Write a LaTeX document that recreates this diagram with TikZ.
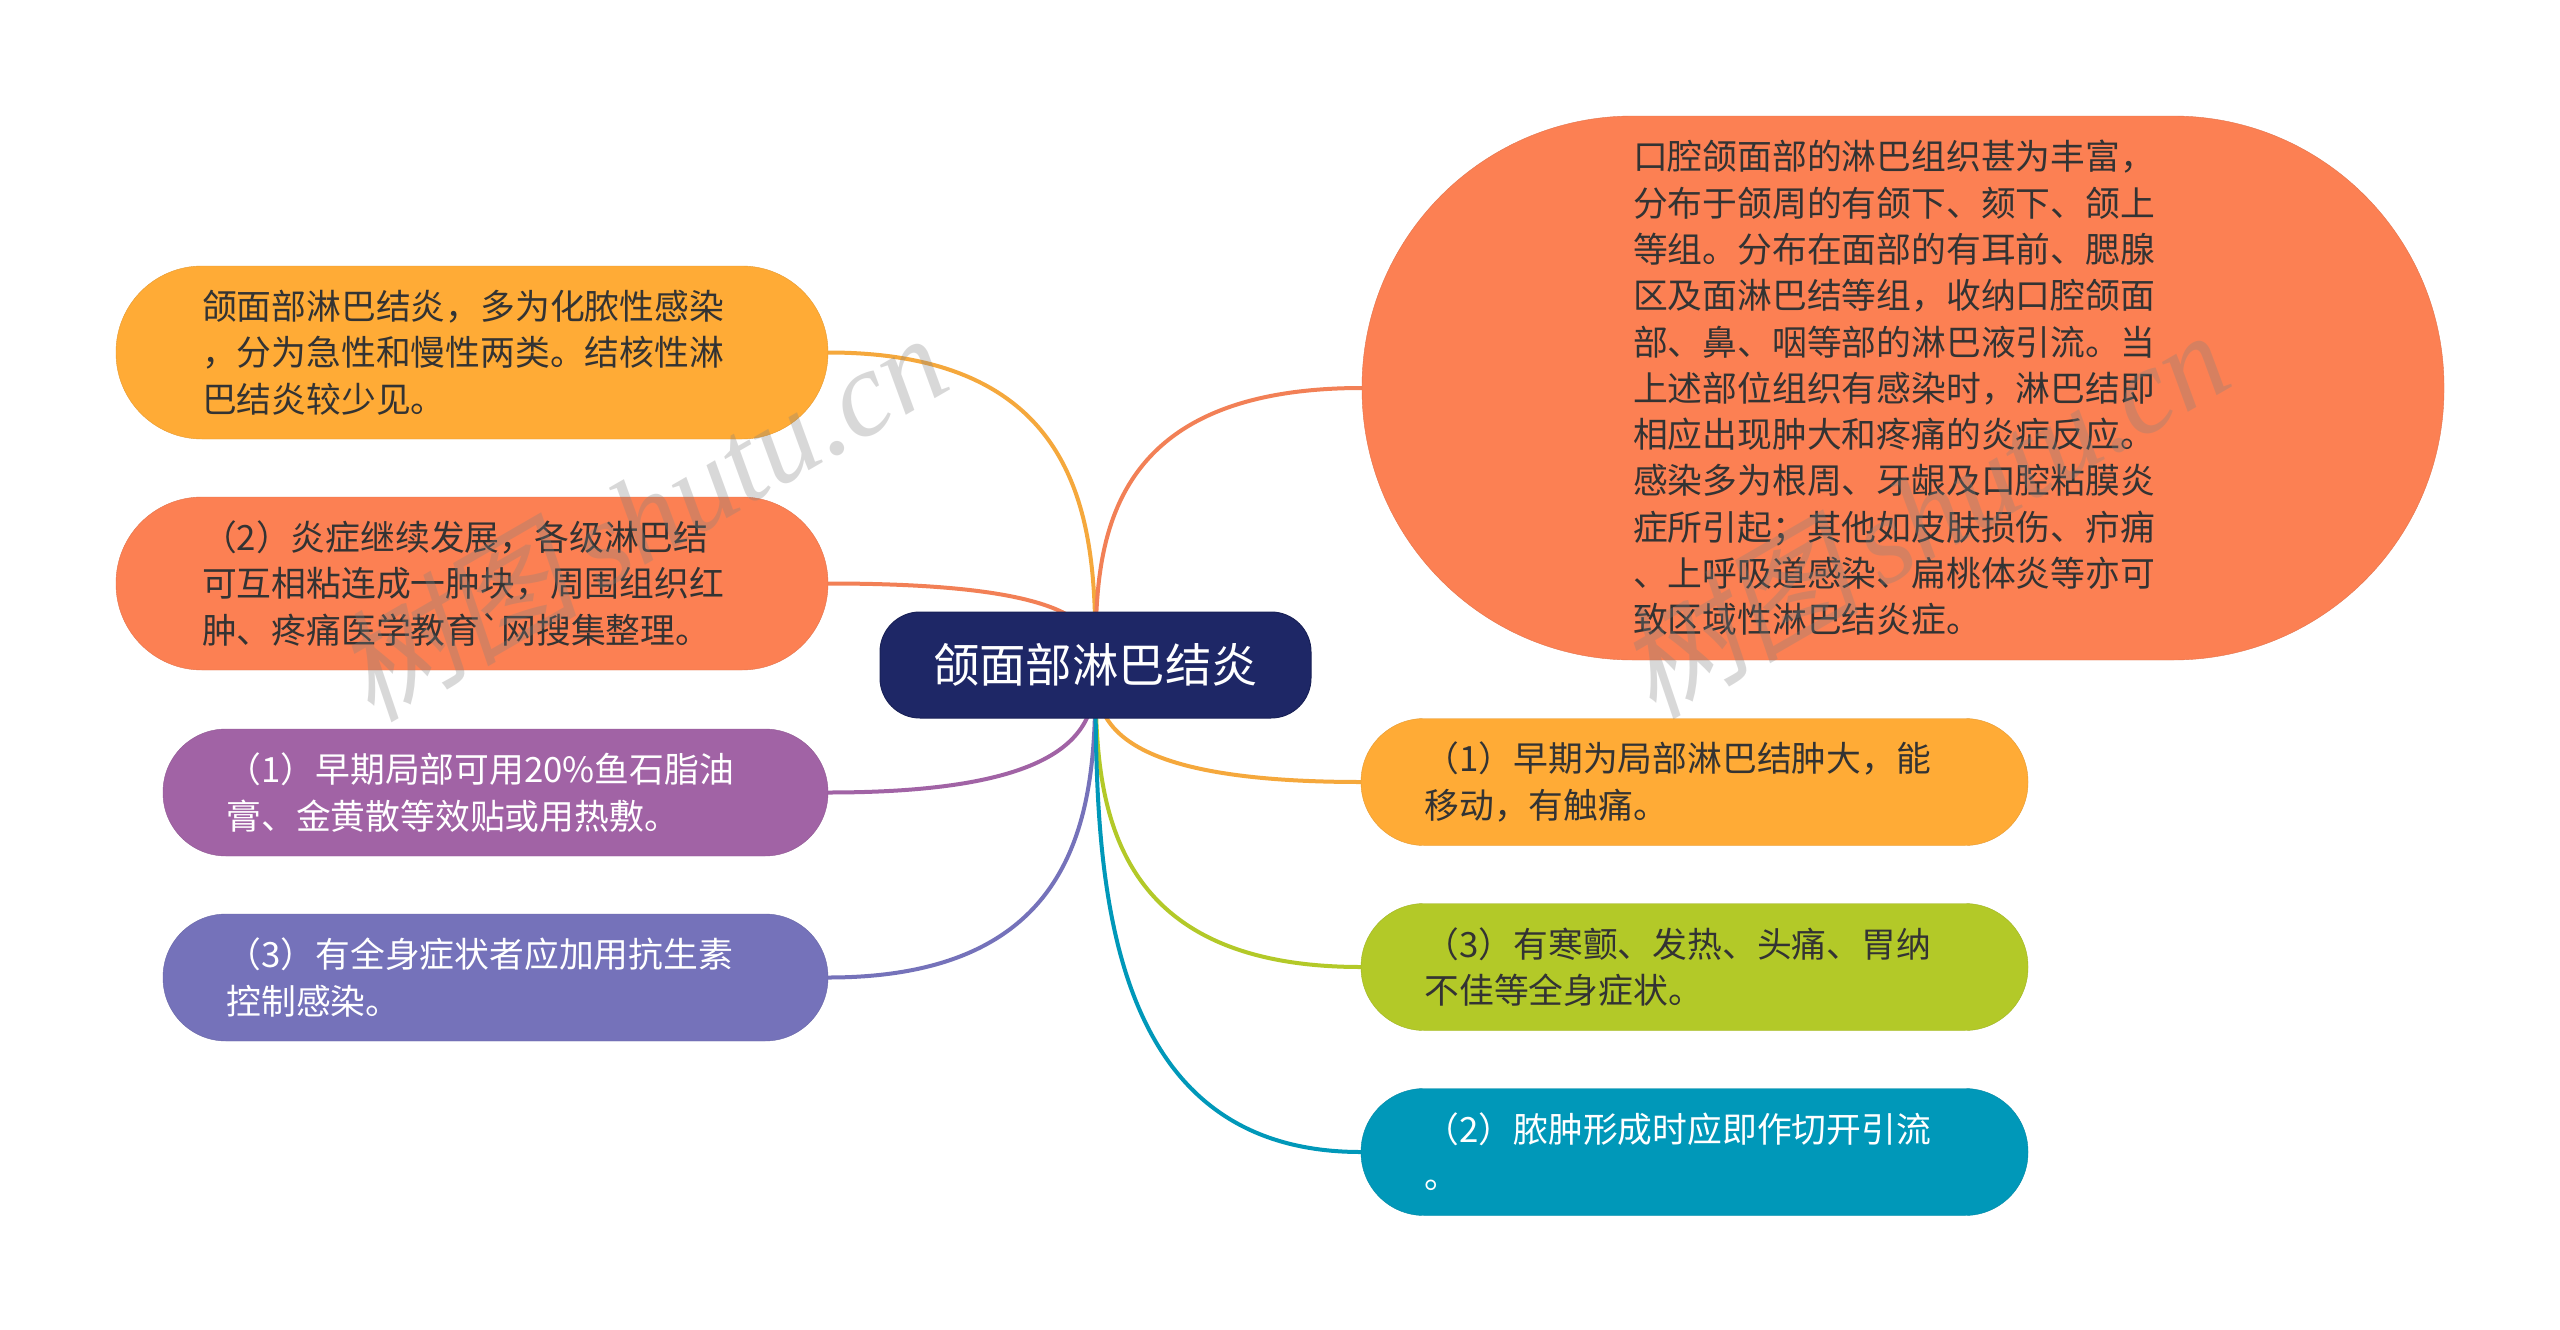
\documentclass[tikz,border=0pt]{standalone}
\usepackage{fontspec}
\setmainfont{Noto Sans CJK SC}
\newfontfamily\markfont[FakeSlant=0.2]{Noto Sans CJK SC}
\newfontfamily\marklatin{Liberation Serif Italic}
\newfontfamily\plainfont{Noto Sans CJK SC}
\usetikzlibrary{calc,backgrounds}
\definecolor{cOrange}{HTML}{FFAB36}
\definecolor{cCoral}{HTML}{FC8053}
\definecolor{cPurple}{HTML}{A163A5}
\definecolor{cIndigo}{HTML}{7572BA}
\definecolor{cLime}{HTML}{B3C928}
\definecolor{cTeal}{HTML}{0098B9}
\definecolor{cNavy}{HTML}{1E2766}
\definecolor{cInk}{HTML}{333333}
\tikzset{
  pill/.style={inner xsep=0pt,inner ysep=0pt,align=left,font=\fontsize{34.8}{46.3}\selectfont,text=cInk},
  hub/.style={fill=cNavy,draw=cNavy!85!black,line width=1pt,rounded corners=40pt,minimum width=431pt,minimum height=106pt,
    text=white,inner sep=0pt,align=center,font=\fontsize{46.4}{56}\selectfont},
  link/.style={line width=4pt},
  wmark/.style={text=gray,opacity=0.3,font=\fontsize{122}{122}\selectfont,rotate=30,inner sep=0pt}
}
\newcommand\linkto[2]{\draw[link,#1] (c.center) .. controls ($(c.center)!0.4!(c.center |- #2)$) and (c.center |- #2) .. (#2);}
\begin{document}
\begin{tikzpicture}[x=1pt,y=-1pt]
\useasboundingbox (0,0) rectangle (2560,1330);
\node[hub] (c) at (1095.5,665) {颌面部淋巴结炎};
\node[pill,fill=cOrange,draw=cOrange!90!black,rounded corners=86pt,minimum width=712pt,minimum height=173pt,text width=540pt] (a) at (472,352.5)
 {颌面部淋巴结炎，多为化脓性感染\\，分为急性和慢性两类。结核性淋\\巴结炎较少见。};
\node[pill,fill=cCoral,draw=cCoral!90!black,rounded corners=86pt,minimum width=712pt,minimum height=173pt,text width=540pt] (b) at (472,583.5)
 {（2）炎症继续发展，各级淋巴结\\可互相粘连成一肿块，周围组织红\\肿、疼痛医学教育{\plainfont`}网搜集整理。};
\node[pill,fill=cPurple,draw=cPurple!90!black,text=white,rounded corners=63pt,minimum width=665pt,minimum height=127pt,text width=538pt] (d) at (495.5,792.5)
 {（1）早期局部可用20\%鱼石脂油\\膏、金黄散等效贴或用热敷。};
\node[pill,fill=cIndigo,draw=cIndigo!90!black,text=white,rounded corners=63pt,minimum width=665pt,minimum height=127pt,text width=538pt] (e) at (495.5,977.5)
 {（3）有全身症状者应加用抗生素\\控制感染。};
\node[pill,fill=cCoral,draw=cCoral!90!black,rounded corners=271pt,minimum width=1082pt,minimum height=544pt,text width=540pt] (f) at (1903,388)
 {口腔颌面部的淋巴组织甚为丰富，\\分布于颌周的有颌下、颏下、颌上\\等组。分布在面部的有耳前、腮腺\\区及面淋巴结等组，收纳口腔颌面\\部、鼻、咽等部的淋巴液引流。当\\上述部位组织有感染时，淋巴结即\\相应出现肿大和疼痛的炎症反应。\\感染多为根周、牙龈及口腔粘膜炎\\症所引起；其他如皮肤损伤、疖痈\\、上呼吸道感染、扁桃体炎等亦可\\致区域性淋巴结炎症。};
\node[pill,fill=cOrange,draw=cOrange!90!black,rounded corners=63pt,minimum width=667pt,minimum height=127pt,text width=540pt] (g) at (1694.5,782)
 {（1）早期为局部淋巴结肿大，能\\移动，有触痛。};
\node[pill,fill=cLime,draw=cLime!90!black,rounded corners=63pt,minimum width=667pt,minimum height=127pt,text width=540pt] (h) at (1694.5,967)
 {（3）有寒颤、发热、头痛、胃纳\\不佳等全身症状。};
\node[pill,fill=cTeal,draw=cTeal!90!black,text=white,rounded corners=63pt,minimum width=667pt,minimum height=127pt,text width=540pt] (i) at (1694.5,1152)
 {（2）脓肿形成时应即作切开引流\\。};
\begin{pgfonlayer}{background}
\fill[white] (0,0) rectangle (2560,1330);
\linkto{cOrange!92!gray}{a.east}
\linkto{cCoral!92!gray}{b.east}
\linkto{cPurple}{d.east}
\linkto{cIndigo}{e.east}
\linkto{cCoral!92!gray}{f.west}
\linkto{cOrange!92!gray}{g.west}
\linkto{cLime}{h.west}
\linkto{cTeal}{i.west}
\end{pgfonlayer}
\node[wmark] (w1) at (640,515) {{\markfont 树图}\,{\marklatin shutu.cn}};
\node[wmark] (w2) at (1922,512) {{\markfont 树图}\,{\marklatin shutu.cn}};
\end{tikzpicture}
\end{document}
